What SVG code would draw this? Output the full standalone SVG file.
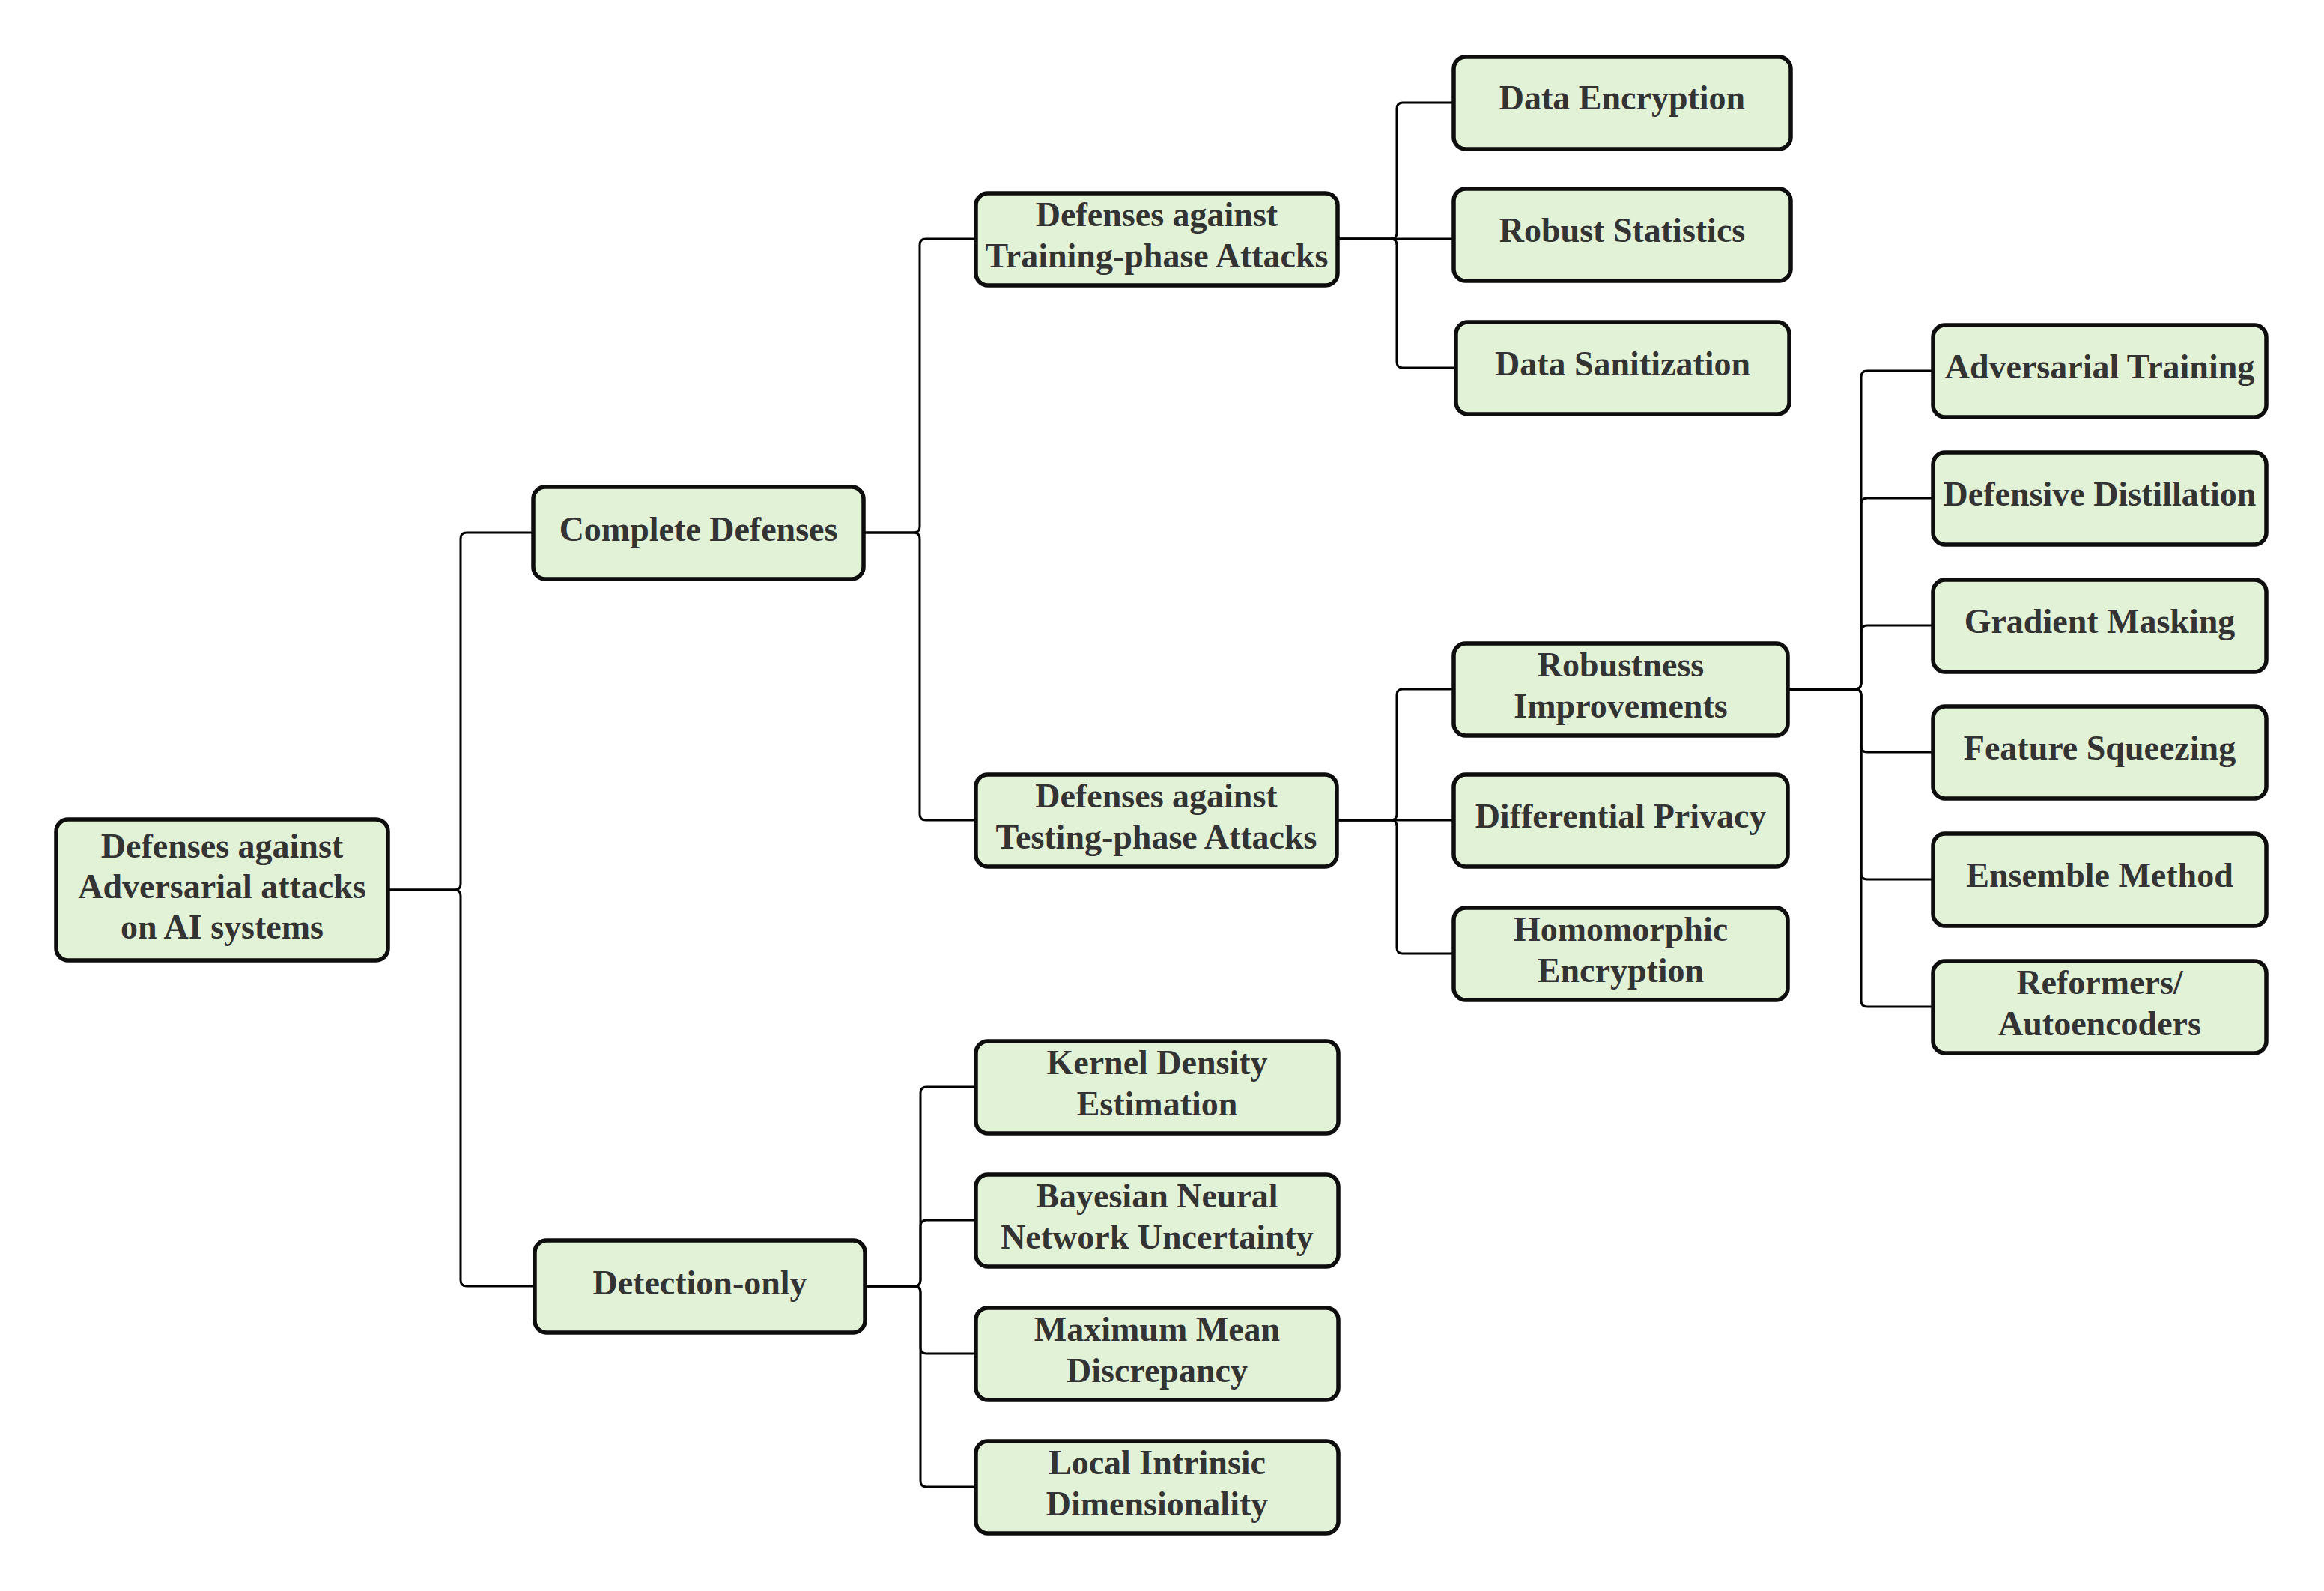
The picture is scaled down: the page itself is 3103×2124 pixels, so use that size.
<svg xmlns="http://www.w3.org/2000/svg" width="3103" height="2124" viewBox="0 0 3103 2124">
<style>
.node rect{fill:#e2f2d7;stroke:#0d0d0d;stroke-width:5.5}
.node text{font-family:"Liberation Serif","Times New Roman",serif;font-weight:bold;font-size:46px;fill:#333333;text-anchor:middle}
.conn path{fill:none;stroke:#000000;stroke-width:3}
</style>
<rect width="3103" height="2124" fill="#ffffff"/>
<g id="connectors" class="conn">
<path d="M518 1188 H607 Q615 1188 615 1180 V719 Q615 711 623 711 H712"/>
<path d="M518 1188 H607 Q615 1188 615 1196 V1709 Q615 1717 623 1717 H714"/>
<path d="M1153 711 H1220 Q1228 711 1228 703 V327 Q1228 319 1236 319 H1303"/>
<path d="M1153 711 H1220 Q1228 711 1228 719 V1087 Q1228 1095 1236 1095 H1303"/>
<path d="M1155 1717 H1221 Q1229 1717 1229 1709 V1459 Q1229 1451 1237 1451 H1303"/>
<path d="M1155 1717 H1221 Q1229 1717 1229 1709 V1637 Q1229 1629 1237 1629 H1303"/>
<path d="M1155 1717 H1221 Q1229 1717 1229 1725 V1799 Q1229 1807 1237 1807 H1303"/>
<path d="M1155 1717 H1221 Q1229 1717 1229 1725 V1977 Q1229 1985 1237 1985 H1303"/>
<path d="M1786 319 H1857 Q1865 319 1865 311 V145 Q1865 137 1873 137 H1941"/>
<path d="M1786 319 H1941"/>
<path d="M1786 319 H1857 Q1865 319 1865 327 V483 Q1865 491 1873 491 H1944"/>
<path d="M1785 1095 H1857 Q1865 1095 1865 1087 V928 Q1865 920 1873 920 H1941"/>
<path d="M1785 1095 H1941"/>
<path d="M1785 1095 H1857 Q1865 1095 1865 1103 V1265 Q1865 1273 1873 1273 H1941"/>
<path d="M2387 920 H2477 Q2485 920 2485 912 V503 Q2485 495 2493 495 H2581"/>
<path d="M2387 920 H2477 Q2485 920 2485 912 V673 Q2485 665 2493 665 H2581"/>
<path d="M2387 920 H2477 Q2485 920 2485 912 V843 Q2485 835 2493 835 H2581"/>
<path d="M2387 920 H2477 Q2485 920 2485 928 V996 Q2485 1004 2493 1004 H2581"/>
<path d="M2387 920 H2477 Q2485 920 2485 928 V1166 Q2485 1174 2493 1174 H2581"/>
<path d="M2387 920 H2477 Q2485 920 2485 928 V1336 Q2485 1344 2493 1344 H2581"/>
</g>
<g id="root" class="node"><rect x="75" y="1094" width="443" height="188" rx="16"/><text x="296.5"><tspan x="296.5" y="1145">Defenses against</tspan><tspan x="296.5" y="1199">Adversarial attacks</tspan><tspan x="296.5" y="1253">on AI systems</tspan></text></g>
<g id="complete" class="node"><rect x="712" y="650" width="441" height="123" rx="16"/><text x="932.5" y="722">Complete Defenses</text></g>
<g id="detection" class="node"><rect x="714" y="1656" width="441" height="123" rx="16"/><text x="934.5" y="1728">Detection-only</text></g>
<g id="training" class="node"><rect x="1303" y="258" width="483" height="123" rx="16"/><text><tspan x="1544.5" y="302">Defenses against</tspan><tspan x="1544.5" y="357">Training-phase Attacks</tspan></text></g>
<g id="testing" class="node"><rect x="1303" y="1034" width="482" height="123" rx="16"/><text><tspan x="1544" y="1078">Defenses against</tspan><tspan x="1544" y="1133">Testing-phase Attacks</tspan></text></g>
<g id="kernel" class="node"><rect x="1303" y="1390" width="484" height="123" rx="16"/><text><tspan x="1545" y="1434">Kernel Density</tspan><tspan x="1545" y="1489">Estimation</tspan></text></g>
<g id="bayesian" class="node"><rect x="1303" y="1568" width="484" height="123" rx="16"/><text><tspan x="1545" y="1612">Bayesian Neural</tspan><tspan x="1545" y="1667">Network Uncertainty</tspan></text></g>
<g id="maxmean" class="node"><rect x="1303" y="1746" width="484" height="123" rx="16"/><text><tspan x="1545" y="1790">Maximum Mean</tspan><tspan x="1545" y="1845">Discrepancy</tspan></text></g>
<g id="lid" class="node"><rect x="1303" y="1924" width="484" height="123" rx="16"/><text><tspan x="1545" y="1968">Local Intrinsic</tspan><tspan x="1545" y="2023">Dimensionality</tspan></text></g>
<g id="dataenc" class="node"><rect x="1941" y="76" width="450" height="123" rx="16"/><text x="2166" y="146">Data Encryption</text></g>
<g id="robuststat" class="node"><rect x="1941" y="252" width="450" height="123" rx="16"/><text x="2166" y="323">Robust Statistics</text></g>
<g id="datasan" class="node"><rect x="1944" y="430" width="445" height="123" rx="16"/><text x="2166.5" y="501">Data Sanitization</text></g>
<g id="robustness" class="node"><rect x="1941" y="859" width="446" height="123" rx="16"/><text><tspan x="2164" y="903">Robustness</tspan><tspan x="2164" y="958">Improvements</tspan></text></g>
<g id="diffpriv" class="node"><rect x="1941" y="1034" width="446" height="123" rx="16"/><text x="2164" y="1105">Differential Privacy</text></g>
<g id="homomorphic" class="node"><rect x="1941" y="1212" width="446" height="123" rx="16"/><text><tspan x="2164" y="1256">Homomorphic</tspan><tspan x="2164" y="1311">Encryption</tspan></text></g>
<g id="advtrain" class="node"><rect x="2581" y="434" width="445" height="123" rx="16"/><text x="2803.5" y="505">Adversarial Training</text></g>
<g id="defdist" class="node"><rect x="2581" y="604" width="445" height="123" rx="16"/><text x="2803.5" y="675">Defensive Distillation</text></g>
<g id="gradmask" class="node"><rect x="2581" y="774" width="445" height="123" rx="16"/><text x="2803.5" y="845">Gradient Masking</text></g>
<g id="featsq" class="node"><rect x="2581" y="943" width="445" height="123" rx="16"/><text x="2803.5" y="1014">Feature Squeezing</text></g>
<g id="ensemble" class="node"><rect x="2581" y="1113" width="445" height="123" rx="16"/><text x="2803.5" y="1184">Ensemble Method</text></g>
<g id="reformers" class="node"><rect x="2581" y="1283" width="445" height="123" rx="16"/><text><tspan x="2803.5" y="1327">Reformers/</tspan><tspan x="2803.5" y="1382">Autoencoders</tspan></text></g>
</svg>
